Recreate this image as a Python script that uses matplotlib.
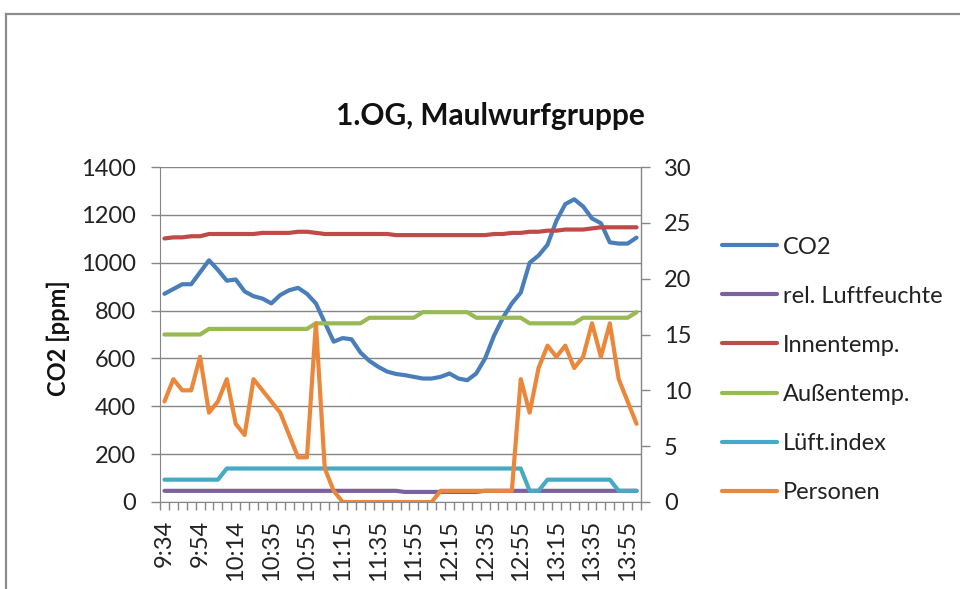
import matplotlib
matplotlib.use("Agg")
import matplotlib.pyplot as plt
from matplotlib.lines import Line2D
from matplotlib.ticker import FixedLocator, MultipleLocator

plt.rcParams['font.family'] = ['Lato', 'DejaVu Sans']

# ---- data ----
tick_labels = ["9:34", "9:54", "10:14", "10:35", "10:55", "11:15", "11:35",
               "11:55", "12:15", "12:35", "12:55", "13:15", "13:35", "13:55"]
label_step = 4

co2 = [870, 890, 910, 910, 960, 1010, 970, 925, 930, 880,
       860, 850, 830, 865, 885, 895, 870, 830, 750, 670,
       685, 680, 625, 590, 565, 545, 535, 530, 523, 516,
       516, 523, 537, 516, 509, 537, 600, 695, 770, 830,
       875, 1000, 1030, 1075, 1175, 1245, 1265, 1235, 1185, 1165,
       1085, 1080, 1080, 1105]
rel_luftfeuchte = [1.0] * 27 + [0.9] * 9 + [1.0] * 18
innentemp = [23.6, 23.7, 23.7, 23.8, 23.8, 24.0, 24.0, 24.0, 24.0, 24.0,
             24.0, 24.1, 24.1, 24.1, 24.1, 24.2, 24.2, 24.1, 24.0, 24.0,
             24.0, 24.0, 24.0, 24.0, 24.0, 24.0, 23.9, 23.9, 23.9, 23.9,
             23.9, 23.9, 23.9, 23.9, 23.9, 23.9, 23.9, 24.0, 24.0, 24.1,
             24.1, 24.2, 24.2, 24.3, 24.3, 24.4, 24.4, 24.4, 24.5, 24.6,
             24.6, 24.6, 24.6, 24.6]
aussentemp = [15.0] * 5 + [15.5] * 12 + [16.0] * 6 + [16.5] * 6 + [17.0] * 6 \
    + [16.5] * 6 + [16.0] * 6 + [16.5] * 6 + [17.0]
lueft_index = [2] * 7 + [3] * 34 + [1, 1] + [2] * 8 + [1] * 3
personen = [9, 11, 10, 10, 13, 8, 9, 11, 7, 6,
            11, 10, 9, 8, 6, 4, 4, 16, 3, 1,
            0, 0, 0, 0, 0, 0, 0, 0, 0, 0,
            0, 1, 1, 1, 1, 1, 1, 1, 1, 1,
            11, 8, 12, 14, 13, 14, 12, 13, 16, 13,
            16, 11, 9, 7]

series_right = [
    ("rel. Luftfeuchte", rel_luftfeuchte, "#7D60A0"),
    ("Innentemp.", innentemp, "#BE4B48"),
    ("Außentemp.", aussentemp, "#98B954"),
    ("Lüft.index", lueft_index, "#46AAC5"),
    ("Personen", personen, "#EB873A"),
]

# ---- figure ----
W, H = 960, 589
fig = plt.figure(figsize=(W / 100, H / 100), dpi=100)
ax1 = fig.add_axes([160 / W, 1 - 502 / H, (641 - 160) / W, (502 - 167) / H])
ax2 = ax1.twinx()

n = len(co2)
x = list(range(n))
lw = 3.0
gray = "#868686"

l_co2, = ax1.plot(x, co2, color="#4A7EBB", lw=lw, solid_capstyle="round",
                  solid_joinstyle="round", label="CO2")
handles = [l_co2]
for name, vals, col in series_right:
    h, = ax2.plot(x, vals, color=col, lw=lw, solid_capstyle="round",
                  solid_joinstyle="round", label=name)
    handles.append(h)

ax1.set_xlim(-0.5, n - 0.5)
ax1.set_ylim(0, 1400)
ax2.set_ylim(0, 30)
ax1.yaxis.set_major_locator(MultipleLocator(200))
ax2.yaxis.set_major_locator(MultipleLocator(5))

ax1.set_axisbelow(True)
ax1.yaxis.grid(True, color=gray, lw=1.0)
ax1.xaxis.grid(False)

for ax in (ax1, ax2):
    for s in ax.spines.values():
        s.set_visible(False)
ax2.spines["right"].set_visible(True)
ax2.spines["right"].set_color(gray)
ax2.spines["right"].set_linewidth(1.0)
ax1.spines["left"].set_visible(True)
ax1.spines["left"].set_color(gray)
ax1.spines["bottom"].set_visible(True)
ax1.spines["bottom"].set_color(gray)

fs = 17
ax1.set_xticks(x[::label_step])
ax1.set_xticklabels(tick_labels, rotation=90, fontsize=fs, color="#222222")
ax1.xaxis.set_minor_locator(FixedLocator([i - 0.5 for i in range(n + 1)]))
ax1.tick_params(axis="x", which="major", length=0, pad=13)
ax1.tick_params(axis="x", which="minor", length=6, color=gray, width=1)
ax1.tick_params(axis="y", which="major", length=6.5, color=gray, width=1,
                labelsize=fs, labelcolor="#222222", pad=11)
ax2.tick_params(axis="y", which="major", length=6.5, color=gray, width=1,
                labelsize=fs, labelcolor="#222222", pad=10)

fig.text(58 / W, 1 - 338 / H, "CO2 [ppm]", rotation=90, ha="center",
         va="center", fontsize=fs, fontweight="bold", color="#111111")
fig.text(490 / W, 1 - 125 / H, "1.OG, Maulwurfgruppe", ha="center",
         va="baseline", fontsize=21.5, fontweight="bold", color="#111111")

leg = ax2.legend(handles=handles, loc="upper left",
                 bbox_to_anchor=(722 / W, 1 - 236.5 / H),
                 bbox_transform=fig.transFigure, frameon=False,
                 fontsize=fs, handlelength=2.35, handletextpad=0.22,
                 labelspacing=1.19, borderpad=0, borderaxespad=0)
for t in leg.get_texts():
    t.set_color("#222222")

# outer chart border (top and left edges visible)
fig.add_artist(Line2D([6 / W, 1], [1 - 13.5 / H, 1 - 13.5 / H],
                      transform=fig.transFigure, color="#8C8C8C", lw=1.6))
fig.add_artist(Line2D([6 / W, 6 / W], [0, 1 - 13.5 / H],
                      transform=fig.transFigure, color="#8C8C8C", lw=1.6))

fig.savefig("out.png", dpi=100)
